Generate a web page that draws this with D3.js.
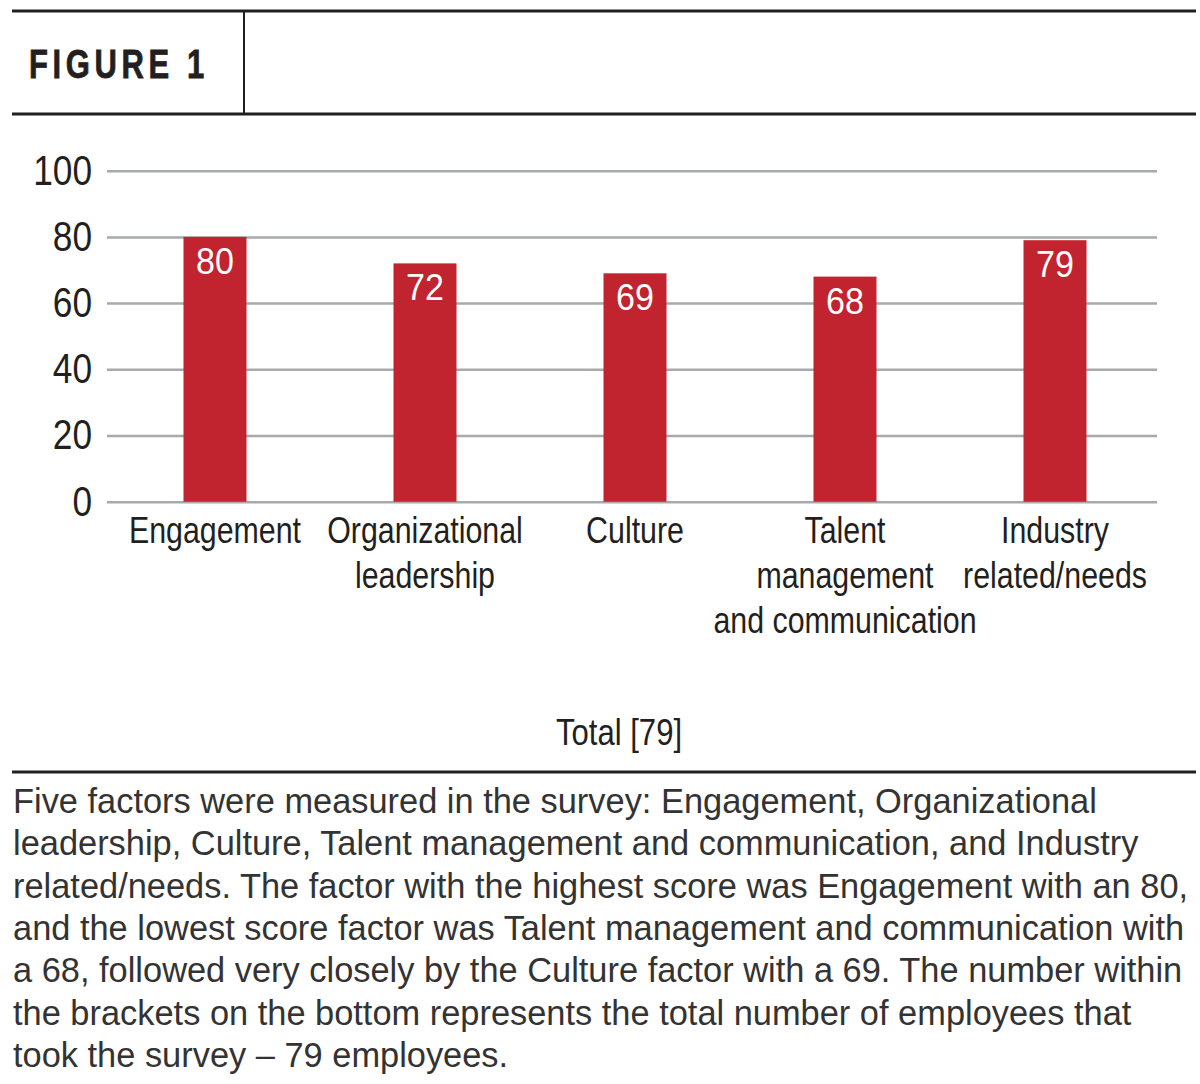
<!DOCTYPE html>
<html>
<head>
<meta charset="utf-8">
<script src="https://cdn.jsdelivr.net/npm/d3@7"></script>
<style>
  body { margin: 0; background: #fff; }
</style>
</head>
<body>
<div id="chart"></div>
<script>
// data
const factors = ["Engagement", "Organizational leadership", "Culture", "Talent management and communication", "Industry related/needs"];
const factorLines = [["Engagement"], ["Organizational", "leadership"], ["Culture"], ["Talent", "management", "and communication"], ["Industry", "related/needs"]];
const scores = [80, 72, 69, 68, 79];
const yTicks = [0, 20, 40, 60, 80, 100];
const figureTitle = "FIGURE 1";
const totalLabel = "Total [79]";
const captionLines = [
  "Five factors were measured in the survey: Engagement, Organizational",
  "leadership, Culture, Talent management and communication, and Industry",
  "related/needs. The factor with the highest score was Engagement with an 80,",
  "and the lowest score factor was Talent management and communication with",
  "a 68, followed very closely by the Culture factor with a 69. The number within",
  "the brackets on the bottom represents the total number of employees that",
  "took the survey \u2013 79 employees."
];

const W = 1200, H = 1084;
const sans = "'Liberation Sans', Arial, Helvetica, sans-serif";
const ink = "#231f20";

// condensed look: squeeze the glyphs of a text to a share of its natural width
function squeeze(sel, k) {
  sel.each(function() {
    const w = this.getComputedTextLength();
    d3.select(this).attr("textLength", w * k).attr("lengthAdjust", "spacingAndGlyphs");
  });
}

const svg = d3.select("#chart").append("svg")
  .attr("width", W)
  .attr("height", H)
  .style("background", "#fff");

// header frame
svg.append("line").attr("x1", 12).attr("x2", 1196).attr("y1", 11).attr("y2", 11)
  .attr("stroke", ink).attr("stroke-width", 3);
svg.append("line").attr("x1", 12).attr("x2", 1196).attr("y1", 114).attr("y2", 114)
  .attr("stroke", ink).attr("stroke-width", 3);
svg.append("line").attr("x1", 244).attr("x2", 244).attr("y1", 11).attr("y2", 114)
  .attr("stroke", ink).attr("stroke-width", 2);

svg.append("text")
  .attr("x", 29)
  .attr("y", 78)
  .attr("font-family", sans)
  .attr("font-weight", "bold")
  .attr("font-size", 40)
  .attr("letter-spacing", 6)
  .attr("fill", ink)
  .attr("stroke", ink)
  .attr("stroke-width", 0.8)
  .text(figureTitle)
  .attr("textLength", 180)
  .attr("lengthAdjust", "spacingAndGlyphs");

// scales
const x = d3.scaleBand()
  .domain(factors)
  .range([110, 1160])
  .paddingInner(0.7)
  .paddingOuter(0.35);

const y = d3.scaleLinear()
  .domain([0, 100])
  .range([501.7, 170.7]);

// gridlines
const grid = svg.append("g")
  .attr("transform", "translate(107,0)")
  .call(d3.axisRight(y).tickValues(yTicks).tickSize(1050).tickFormat(""));
grid.select(".domain").remove();
grid.selectAll(".tick line").attr("stroke", "#a7a9ac").attr("stroke-width", 2.5);

// y axis labels
const yAxis = svg.append("g")
  .attr("transform", "translate(92,0)")
  .call(d3.axisLeft(y).tickValues(yTicks).tickSize(0).tickPadding(0));
yAxis.select(".domain").remove();
yAxis.selectAll(".tick text")
  .attr("font-family", sans)
  .attr("font-size", 42)
  .attr("fill", ink)
  .call(squeeze, 0.84);

// bars
svg.append("g")
  .selectAll("rect")
  .data(scores)
  .enter().append("rect")
    .attr("x", (d, i) => x(factors[i]))
    .attr("y", d => y(d))
    .attr("width", x.bandwidth())
    .attr("height", d => y(0) - y(d))
    .attr("fill", "#c1232f");

// value labels
svg.append("g")
  .selectAll("text")
  .data(scores)
  .enter().append("text")
    .attr("x", (d, i) => x(factors[i]) + x.bandwidth() / 2)
    .attr("y", d => y(d) + 37)
    .attr("text-anchor", "middle")
    .attr("font-family", sans)
    .attr("font-size", 37)
    .attr("fill", "#fff")
    .text(d => d)
    .call(squeeze, 0.92);

// x axis labels (one text per line)
const xAxis = svg.append("g")
  .attr("transform", "translate(0," + y(0) + ")")
  .call(d3.axisBottom(x).tickSize(0).tickFormat(""));
xAxis.select(".domain").remove();
xAxis.selectAll(".tick").each(function(d, i) {
  const g = d3.select(this);
  factorLines[i].forEach((line, j) => {
    g.append("text")
      .attr("x", 0)
      .attr("y", 41 + j * 45)
      .attr("text-anchor", "middle")
      .attr("font-family", sans)
      .attr("font-size", 37)
      .attr("fill", ink)
      .text(line)
      .call(squeeze, 0.82);
  });
});

// total label
svg.append("text")
  .attr("x", 619)
  .attr("y", 745)
  .attr("text-anchor", "middle")
  .attr("font-family", sans)
  .attr("font-size", 37)
  .attr("fill", ink)
  .text(totalLabel)
  .call(squeeze, 0.84);

// caption
svg.append("line").attr("x1", 12).attr("x2", 1196).attr("y1", 772).attr("y2", 772)
  .attr("stroke", ink).attr("stroke-width", 3);

svg.append("g")
  .selectAll("text")
  .data(captionLines)
  .enter().append("text")
    .attr("x", 13)
    .attr("y", (d, i) => 813 + i * 42.3)
    .attr("font-family", sans)
    .attr("font-size", 34.4)
    .attr("fill", "#333")
    .text(d => d);
</script>
</body>
</html>
